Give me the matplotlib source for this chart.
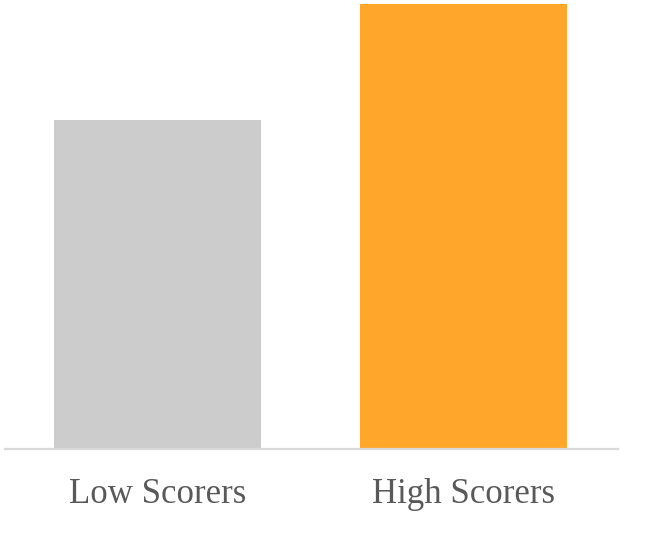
import matplotlib
matplotlib.use("Agg")
import matplotlib.pyplot as plt

categories = ["Low Scorers", "High Scorers"]
values = [74, 100]
colors = ["#CCCCCC", "#FFA62B"]

fig = plt.figure(figsize=(6.58, 5.33), dpi=100)
ax = fig.add_axes([5 / 658, 84 / 533, 613 / 658, 445 / 533])

ax.bar(range(len(categories)), values, width=0.678, color=colors)
ax.set_xlim(-0.5, 1.507)
ax.set_ylim(0, max(values))

for side in ["top", "right", "left"]:
    ax.spines[side].set_visible(False)
ax.spines["bottom"].set_color("#D9D9D9")
ax.spines["bottom"].set_linewidth(1.6)

ax.set_yticks([])
ax.set_xticks(range(len(categories)))
ax.set_xticklabels(categories, fontsize=25, color="#595959",
                   family=["Liberation Serif", "DejaVu Serif"])
ax.tick_params(axis="x", length=0, pad=21)

fig.savefig("out.png", dpi=100)
